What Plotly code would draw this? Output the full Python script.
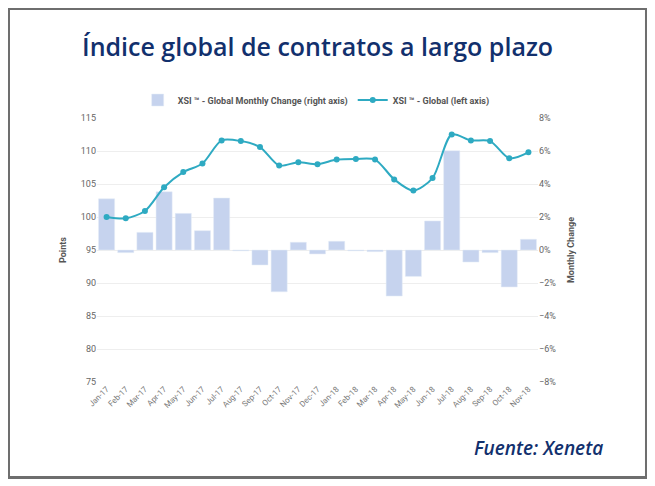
import plotly.graph_objects as go

# XSI Global index, Jan-17 .. Nov-18
months = ['Jan-17', 'Feb-17', 'Mar-17', 'Apr-17', 'May-17', 'Jun-17', 'Jul-17',
          'Aug-17', 'Sep-17', 'Oct-17', 'Nov-17', 'Dec-17', 'Jan-18', 'Feb-18',
          'Mar-18', 'Apr-18', 'May-18', 'Jun-18', 'Jul-18', 'Aug-18', 'Sep-18',
          'Oct-18', 'Nov-18']
xsi_points = [100.0, 99.8, 100.9, 104.5, 106.8, 108.1, 111.6, 111.5, 110.6, 107.8,
              108.3, 108.0, 108.7, 108.8, 108.7, 105.7, 104.0, 105.9, 112.5, 111.6,
              111.5, 108.9, 109.8]
monthly_change = [3.1, -0.16, 1.07, 3.53, 2.22, 1.17, 3.15, -0.05, -0.91, -2.53,
                  0.47, -0.24, 0.53, -0.05, -0.1, -2.79, -1.6, 1.76, 6.02, -0.73,
                  -0.16, -2.24, 0.65]

navy = '#12306d'
grey_txt = '#666666'

fig = go.Figure()

# bars on the base axis (right, %), line on the overlaying axis so it sits on top
fig.add_trace(go.Bar(
    x=months, y=monthly_change, yaxis='y',
    name='<b>XSI \u2122 - Global Monthly Change (right axis)</b>',
    marker=dict(color='#c6d3ee'),
))
fig.add_trace(go.Scatter(
    x=months, y=xsi_points, yaxis='y2',
    name='<b>XSI \u2122 - Global (left axis)</b>',
    mode='lines+markers',
    line=dict(color='#2eaac2', width=2, shape='spline', smoothing=0.8),
    marker=dict(size=6, color='#2eaac2'),
))

# page body adds 8px margin, so the figure is 8px smaller than the window
fig.update_layout(
    width=647, height=478,
    margin=dict(l=89, r=117, t=110, b=104, autoexpand=False),
    paper_bgcolor='white', plot_bgcolor='white',
    font=dict(family='Roboto, Arial, sans-serif', size=9, color=grey_txt),
    bargap=0.16,
    showlegend=True,
    legend=dict(orientation='h', x=0.497, xanchor='center', y=1.068, yanchor='middle',
                font=dict(size=9, color='#555555'), traceorder='normal'),
    xaxis=dict(type='category', range=[-0.5, 22.5], tickangle=-45, showgrid=False,
               showline=False, ticks='', automargin=False,
               tickfont=dict(size=8, color='#777777')),
    yaxis=dict(range=[-8, 8], dtick=2, ticksuffix='%', side='right',
               showgrid=True, gridcolor='#eeeeee', zeroline=False, showline=False,
               automargin=False,
               title=dict(text='<b>Monthly Change</b>', font=dict(size=9, color='#555555'), standoff=12),
               tickfont=dict(size=9, color=grey_txt)),
    yaxis2=dict(range=[75, 115], dtick=5, overlaying='y', side='left',
                showgrid=False, zeroline=False, showline=False, automargin=False,
                title=dict(text='<b>Points</b>', font=dict(size=9, color='#555555'), standoff=12),
                tickfont=dict(size=9, color=grey_txt)),
)

# outer frame
fig.add_shape(type='rect', xref='paper', yref='paper',
              x0=-0.2007, x1=1.246, y0=-0.3617, y1=1.4148,
              line=dict(color='#6e6e6e', width=3))

fig.add_annotation(text='\u00cdndice global de contratos a largo plazo',
                   xref='paper', yref='paper', x=0.499, y=1.2727,
                   xanchor='center', yanchor='middle', showarrow=False,
                   font=dict(family='Open Sans, sans-serif', size=25, color=navy, weight=600))
fig.add_annotation(text='<i>Fuente: Xeneta</i>',
                   xref='paper', yref='paper', x=1.152, y=-0.25,
                   xanchor='right', yanchor='middle', showarrow=False,
                   font=dict(family='Open Sans, sans-serif', size=19, color=navy, weight=600))

fig.write_html('out.html')
